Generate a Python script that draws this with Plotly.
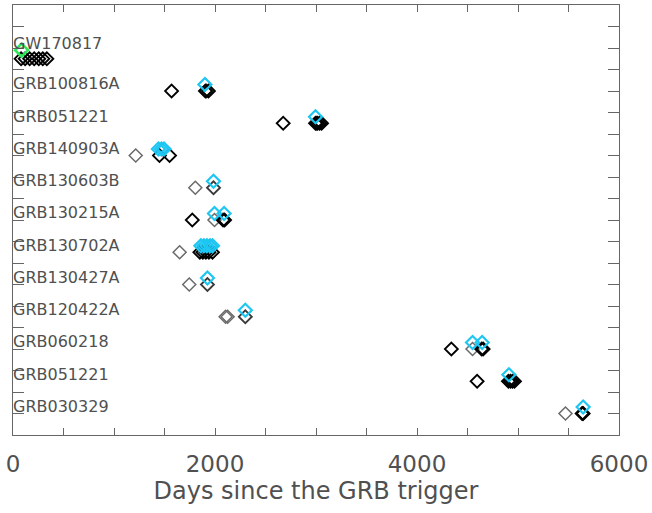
import plotly.graph_objects as go

# Row labels (top to bottom)
labels = ["GW170817", "GRB100816A", "GRB051221", "GRB140903A", "GRB130603B",
          "GRB130215A", "GRB130702A", "GRB130427A", "GRB120422A", "GRB060218",
          "GRB051221", "GRB030329"]
n = len(labels)
row_y = [1 + 1.5 * (n - 1 - i) for i in range(n)]  # y position of each row

# Observations: (row index, days since trigger)
black_rows = [0, 0, 0, 0, 0, 0, 0,
              1, 1, 1,
              2, 2, 2, 2, 2,
              3, 3,
              5, 5, 5,
              6, 6, 6, 6, 6,
              9, 9, 9,
              10, 10, 10, 10, 10,
              11, 11]
black_days = [80, 120, 165, 210, 255, 295, 335,
              1570, 1905, 1935,
              2675, 2995, 3015, 3035, 3055,
              1450, 1550,
              1775, 2080, 2095,
              1850, 1880, 1910, 1940, 1975,
              4340, 4640, 4655,
              4595, 4905, 4925, 4945, 4965,
              5635, 5645]

dgray_rows = [1, 2, 4, 7, 8, 11]
dgray_days = [1915, 3005, 1985, 1925, 2300, 5640]

gray_rows = [3, 4, 5, 6, 7, 8, 8, 9, 11]
gray_days = [1215, 1805, 1995, 1650, 1745, 2105, 2125, 4550, 5470]

cyan_rows = [1, 2, 3, 3, 3, 4, 5, 5, 6, 6, 6, 6, 6, 7, 8, 9, 9, 10, 11]
cyan_days = [1900, 2995, 1440, 1470, 1495, 1985, 1995, 2090,
             1860, 1890, 1920, 1950, 1975, 1925, 2300, 4550, 4645, 4910, 5645]

green_rows = [0]
green_days = [85]

CYAN_OFF = 0.3
GREEN_OFF = 0.4

fig = go.Figure()

def add(rows, days, color, off=0.0, width=1.8, size=10):
    fig.add_trace(go.Scatter(
        x=days, y=[row_y[r] + off for r in rows], mode="markers",
        marker=dict(symbol="diamond-open", size=size, color=color,
                    line=dict(color=color, width=width)),
        showlegend=False, hoverinfo="skip"))

add(gray_rows, gray_days, "#6a6a6a", width=1.5)
add(dgray_rows, dgray_days, "#3a3a3a")
add(black_rows, black_days, "#000000")
add(cyan_rows, cyan_days, "#1ec6f2", CYAN_OFF, 2.2)
add(green_rows, green_days, "#2ee85a", GREEN_OFF, 2.6)

TXT = "#505050"
label_off = [0.7] + [0.33] * (n - 1)
for i, lab in enumerate(labels):
    fig.add_annotation(x=0, xref="paper", y=row_y[i] + label_off[i], yref="y",
                       text=lab, showarrow=False, xanchor="left", yanchor="middle",
                       xshift=-2, font=dict(family="DejaVu Sans", size=16, color=TXT))

fig.update_layout(
    width=652, height=513,
    margin=dict(l=13, r=31, t=4, b=78),
    plot_bgcolor="white", paper_bgcolor="white",
    font=dict(family="DejaVu Sans", color=TXT),
)
fig.update_xaxes(range=[0, 6000], showgrid=False, zeroline=False,
                 showline=True, linecolor="#666", linewidth=1, mirror="ticks",
                 ticks="inside", ticklen=7, tickcolor="#666", dtick=2000, tick0=0,
                 minor=dict(dtick=500, ticks="inside", ticklen=7, tickcolor="#666"),
                 tickfont=dict(size=23, color=TXT), ticklabelstandoff=8,
                 title=dict(text="Days since the GRB trigger", font=dict(size=24, color=TXT),
                            standoff=5))
fig.update_yaxes(range=[0, 20], showgrid=False, zeroline=False,
                 showline=True, linecolor="#666", linewidth=1, mirror="ticks",
                 ticks="inside", ticklen=11, tickcolor="#666", dtick=1, tick0=0,
                 showticklabels=False)

fig.write_html("out.html")
